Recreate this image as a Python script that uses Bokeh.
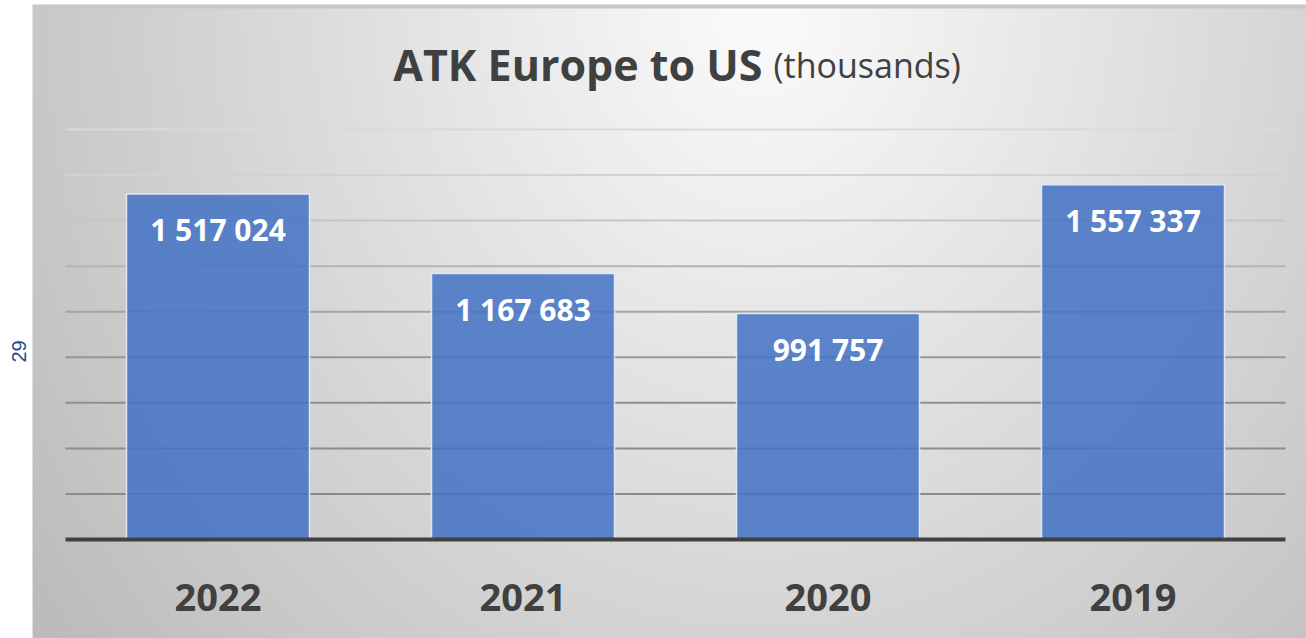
import numpy as np
from bokeh.plotting import figure
from bokeh.models import Range1d, Label, ColumnDataSource
from bokeh.core.properties import value
from bokeh.embed import file_html
from bokeh.resources import INLINE

# ---------------- data ----------------
years = ["2022", "2021", "2020", "2019"]
values = [1517024, 1167683, 991757, 1557337]
value_labels = [f"{v:,}".replace(",", " ") for v in values]
grid_ticks = [200000, 400000, 600000, 800000, 1000000, 1200000, 1400000, 1600000, 1800000]
grid_colors = ["#8a8a8a", "#8c8c8c", "#8f8f8f", "#969696", "#a3a3a3", "#b4b4b4", "#c6c6c6", "#d2d2d2", "#d9d9d9"]
title_bold = "ATK Europe to US"
title_normal = "(thousands)"
side_text = "29"

# ---------------- layout constants (pixels) ----------------
W, H = 1306, 638
LEFT_PX = 65          # left edge of the category area
CAT_PX = 305          # width of one category slot
BASE_PX = 539         # baseline, from top
PPU = 45.555 / 200000  # pixels per value unit
GRAY_LEFT, GRAY_TOP = 32, 4

x_start = -LEFT_PX / CAT_PX
x_end = (W - LEFT_PX) / CAT_PX
y_start = -(H - BASE_PX) / PPU
y_end = BASE_PX / PPU

p = figure(width=W, height=H, output_backend="svg", toolbar_location=None,
           x_range=Range1d(x_start, x_end), y_range=Range1d(y_start, y_end),
           x_axis_type=None, y_axis_type=None, min_border=0,
           border_fill_color="white", background_fill_color="white")
p.outline_line_color = None
p.grid.visible = False

# ---------------- gradient background ----------------
rows, cols = (H - GRAY_TOP) // 2, (W - GRAY_LEFT) // 2
px = GRAY_LEFT + (np.arange(cols) + 0.5) * (W - GRAY_LEFT) / cols
py = GRAY_TOP + (np.arange(rows) + 0.5) * (H - GRAY_TOP) / rows
X, Y = np.meshgrid(px, py)
d = np.sqrt(((X - 760) / 700.0) ** 2 + ((Y - 0) / 800.0) ** 2)
v = np.clip(252 - 50 * d, 185, 252)
v[:2, :] = np.minimum(v[:2, :], 200)  # thin darker top edge
v = np.flipud(v.astype(np.uint8))
img = np.empty((rows, cols), dtype=np.uint32)
view = img.view(dtype=np.uint8).reshape((rows, cols, 4))
view[..., 0] = v
view[..., 1] = v
view[..., 2] = v
view[..., 3] = 255
img_x0 = (GRAY_LEFT - LEFT_PX) / CAT_PX
img_y0 = y_start
p.image_rgba(image=[img], x=img_x0, y=img_y0, dw=x_end - img_x0,
             dh=(H - GRAY_TOP) / PPU)

# ---------------- grid lines ----------------
n = len(years)
p.segment(x0=[0] * len(grid_ticks), x1=[n] * len(grid_ticks), y0=grid_ticks, y1=grid_ticks,
          line_color=grid_colors, line_width=2)

# ---------------- bars ----------------
xs = [i + 0.5 for i in range(n)]
src = ColumnDataSource(dict(x=xs, top=values, lab=value_labels, year=years))
p.vbar(x="x", top="top", bottom=0, width=0.6, source=src,
       fill_color="#4472C4", fill_alpha=0.86, line_color="#dfe6f4", line_width=1.5)

# baseline
p.segment(x0=[0], x1=[n], y0=[0], y1=[0], line_color="#404040", line_width=4)

# value labels
p.text(x="x", y="top", text="lab", source=src, text_align="center", text_baseline="middle",
       y_offset=36, text_color="white", text_font=value("Open Sans"),
       text_font_style="bold", text_font_size="30px")

# year labels
p.text(x="x", y=0, text="year", source=src, text_align="center", text_baseline="middle",
       y_offset=58, text_color="#404040", text_font=value("Open Sans"),
       text_font_style="bold", text_font_size="38px")

# ---------------- title ----------------
p.add_layout(Label(x=762, y=H - 64, x_units="screen", y_units="screen", text=title_bold,
                   text_align="right", text_baseline="middle", text_color="#404040",
                   text_font="Open Sans", text_font_style="bold", text_font_size="43px"))
p.add_layout(Label(x=773, y=H - 64, x_units="screen", y_units="screen", text=title_normal,
                   text_align="left", text_baseline="middle", text_color="#404040",
                   text_font="Open Sans", text_font_size="34px"))

# side "29"
p.add_layout(Label(x=18, y=H - 351, x_units="screen", y_units="screen", text=side_text,
                   angle=np.pi / 2, text_align="center", text_baseline="middle",
                   text_color="#1f4e8c", text_font="Liberation Sans", text_font_size="20px"))

open("out.html", "w").write(file_html(p, INLINE))
